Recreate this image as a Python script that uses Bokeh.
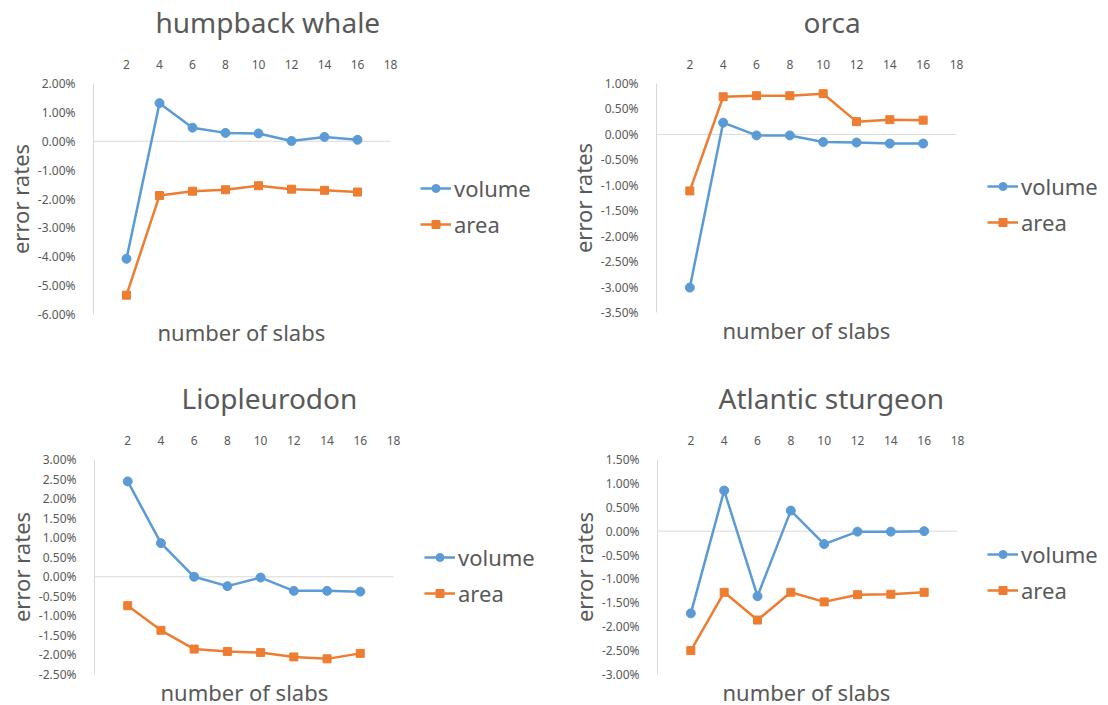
from bokeh.plotting import figure
from bokeh.models import (Range1d, FixedTicker, NumeralTickFormatter, Legend,
                          LegendItem, Title)
from bokeh.layouts import column, row
from bokeh.embed import file_html
from bokeh.resources import INLINE

# ---------------- data (error rates in %) ----------------
slabs = [2, 4, 6, 8, 10, 12, 14, 16]
x_ticks = [2, 4, 6, 8, 10, 12, 14, 16, 18]
x_axis_max = 18

humpback_volume = [-4.07, 1.32, 0.47, 0.29, 0.27, 0.01, 0.15, 0.05]
humpback_area = [-5.33, -1.88, -1.73, -1.68, -1.54, -1.66, -1.70, -1.76]

orca_volume = [-3.01, 0.23, -0.02, -0.02, -0.15, -0.16, -0.18, -0.18]
orca_area = [-1.11, 0.74, 0.76, 0.76, 0.80, 0.25, 0.29, 0.28]

lio_volume = [2.44, 0.86, 0.00, -0.24, -0.02, -0.36, -0.36, -0.38]
lio_area = [-0.74, -1.37, -1.85, -1.91, -1.94, -2.05, -2.10, -1.96]

sturgeon_volume = [-1.72, 0.85, -1.36, 0.43, -0.27, -0.01, -0.01, 0.00]
sturgeon_area = [-2.50, -1.28, -1.86, -1.28, -1.48, -1.33, -1.32, -1.28]

titles = ["humpback whale", "orca", "Liopleurodon", "Atlantic sturgeon"]
series_names = ["volume", "area"]
x_title = "number of slabs"
y_title = "error rates"

FONT = "Noto Sans"
TXT = "#595959"
BLUE = "#5B9BD5"
ORANGE = "#ED7D31"
AXIS = "#D9D9D9"


def make_panel(title, vol, area, yr, ystep, W, H, origin, frame,
               title_left, xtitle_left, xtitle_standoff, legend_pos):
    ox, oy = origin
    L, T, R, B = frame
    FR = ox + W - 3                      # frame extends to the right to host the legend
    y0, y1 = yr[0] / 100.0, yr[1] / 100.0
    xmax = x_axis_max * (FR - L) / (R - L)
    p = figure(frame_width=FR - L, frame_height=B - T,
               output_backend="svg", toolbar_location=None,
               x_range=Range1d(0, xmax), y_range=Range1d(y0 - 1e-9, y1 + 1e-9),
               x_axis_location="above",
               min_border_left=L - ox, min_border_right=ox + W - FR,
               min_border_top=T - oy, min_border_bottom=oy + H - B)
    p.background_fill_color = "white"
    p.border_fill_color = "white"
    p.outline_line_color = None
    p.xgrid.visible = False
    p.ygrid.visible = False

    # title
    p.title.text = title
    p.title.text_font = FONT
    p.title.text_font_size = "28px"
    p.title.text_font_style = "normal"
    p.title.text_color = TXT
    p.title.align = "left"
    p.title.offset = title_left - L
    p.title.standoff = 1

    # x title below the plot
    p.add_layout(Title(text=x_title, align="left", offset=xtitle_left - L,
                       text_font=FONT, text_font_size="22px", text_font_style="normal",
                       text_color=TXT, standoff=xtitle_standoff), "below")

    # top x axis
    xa = p.xaxis[0]
    xa.ticker = FixedTicker(ticks=x_ticks)
    xa.axis_line_color = None
    xa.major_tick_line_color = None
    xa.minor_tick_line_color = None
    xa.major_label_text_font = FONT
    xa.major_label_text_font_size = "12px"
    xa.major_label_text_color = TXT
    xa.major_label_standoff = 9
    xa.axis_label = " "
    xa.axis_label_text_font_size = "8px"
    xa.axis_label_text_alpha = 0
    xa.axis_label_standoff = 3

    n = int(round((yr[1] - yr[0]) / ystep))
    yt = [round((yr[0] + i * ystep) / 100.0, 6) for i in range(n + 1)]
    ya = p.yaxis[0]
    ya.ticker = FixedTicker(ticks=yt)
    ya.formatter = NumeralTickFormatter(format="0.00%")
    ya.axis_line_color = AXIS
    ya.axis_line_width = 1
    ya.major_tick_line_color = None
    ya.minor_tick_line_color = None
    ya.major_label_text_font = FONT
    ya.major_label_text_font_size = "12px"
    ya.major_label_text_color = TXT
    ya.major_label_standoff = 12
    ya.axis_label = y_title
    ya.axis_label_text_font = FONT
    ya.axis_label_text_font_size = "22px"
    ya.axis_label_text_font_style = "normal"
    ya.axis_label_text_color = TXT
    ya.axis_label_standoff = 0

    # horizontal zero axis line from 0 to 18
    p.segment(x0=[0], y0=[0], x1=[x_axis_max], y1=[0], line_color=AXIS, line_width=1)

    vf = [v / 100.0 for v in vol]
    af = [v / 100.0 for v in area]
    l1 = p.line(slabs, vf, line_color=BLUE, line_width=2.5)
    s1 = p.scatter(slabs, vf, marker="circle", size=9, fill_color=BLUE, line_color=BLUE)
    l2 = p.line(slabs, af, line_color=ORANGE, line_width=2.5)
    s2 = p.scatter(slabs, af, marker="square", size=8, fill_color=ORANGE, line_color=ORANGE)

    gl, top_center = legend_pos
    item_h = 31
    spacing = 6
    leg_h = 2 * item_h + spacing
    leg_bottom = top_center - item_h / 2 + leg_h
    legend = Legend(items=[LegendItem(label=series_names[0], renderers=[l1, s1]),
                           LegendItem(label=series_names[1], renderers=[l2, s2])],
                    location=(gl - L, B - leg_bottom),
                    label_text_font=FONT, label_text_font_size="22px",
                    label_text_color=TXT, glyph_width=31, glyph_height=20,
                    label_height=20, label_standoff=3, spacing=spacing,
                    padding=0, margin=0, border_line_color=None,
                    background_fill_alpha=0)
    p.add_layout(legend)
    return p


p1 = make_panel(titles[0], humpback_volume, humpback_area, (-6, 2), 1.0,
                553, 354, (0, 0), (93, 83, 390, 314), 155, 157, 1, (420, 186))
p2 = make_panel(titles[1], orca_volume, orca_area, (-3.5, 1), 0.5,
                553, 354, (553, 0), (656, 83, 956, 312), 803, 722, 1, (987, 184))
p3 = make_panel(titles[2], lio_volume, lio_area, (-2.5, 3), 0.5,
                553, 350, (0, 354), (94, 459, 393, 674), 181, 160, 0, (424, 555))
p4 = make_panel(titles[3], sturgeon_volume, sturgeon_area, (-3, 1.5), 0.5,
                553, 350, (553, 354), (657, 459, 957, 674), 718, 722, 0, (987, 552))

layout = column(row(p1, p2), row(p3, p4))
open("out.html", "w").write(file_html(layout, INLINE))
